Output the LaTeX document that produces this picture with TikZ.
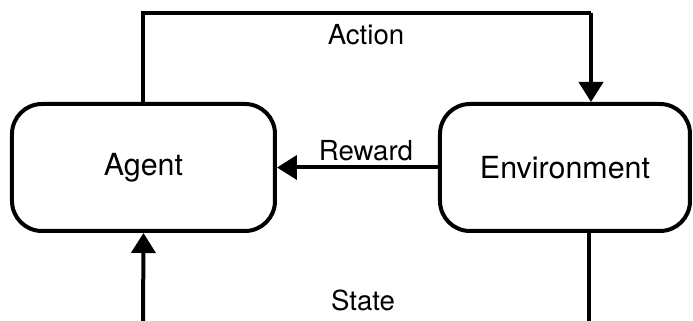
\documentclass[tikz,border=0pt]{standalone}
\usepackage{fontspec}
\setmainfont{TeX Gyre Heros}
\usetikzlibrary{arrows.meta}
\tikzset{
  block/.style={draw, line width=2pt, rounded corners=15pt,
    minimum width=131.5pt, minimum height=63.5pt, font=\fontsize{15.2}{18}\selectfont},
  flow/.style={line width=2pt},
  label/.style={font=\fontsize{13.8}{16}\selectfont},
}
\begin{document}
\begin{tikzpicture}[x=0.5pt,y=-0.5pt]
      \useasboundingbox (0,0) rectangle (693,321);
      \node[block] (agent) at (143.5,167.5) {Agent};
      \node[block, minimum width=125pt] (env) at (565,167.5) {Environment};
      \coordinate (actcorner) at (591,13);
      \coordinate (stateR) at (589,325);
      \coordinate (stateL) at (143,325);
      \begin{scope}[flow]
        \draw (agent.north) |- (actcorner);
        \draw[-{Triangle[width=12pt,length=10pt]}] (actcorner) -- (actcorner |- env.north);
        \draw[-{Triangle[width=12pt,length=10pt]}] (env.west) -- (agent.east);
        \draw (env.south -| stateR) -- (stateR);
        \draw[-{Triangle[width=12pt,length=10pt]}] (stateL) -- (agent.south);
      \end{scope}
      \node[label] (action) at (366,35) {Action};
      \node[label] (reward) at (366,151) {Reward};
      \node[label] (state) at (363,300) {State};
    \end{tikzpicture}
\end{document}
